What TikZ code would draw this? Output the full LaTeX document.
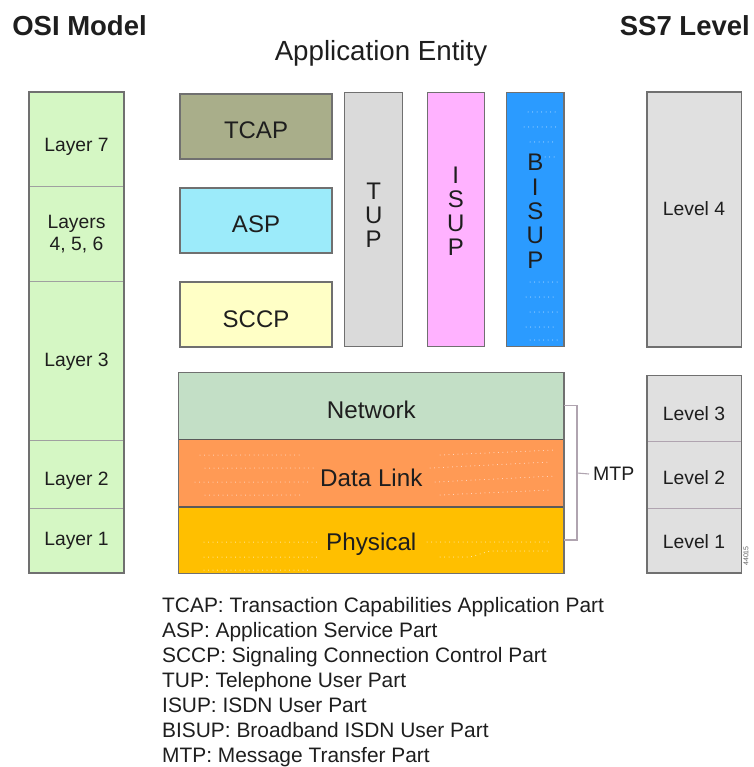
\documentclass[tikz,border=0pt]{standalone}
\usepackage{fontspec}
\setmainfont{Liberation Sans}
\definecolor{layerg}{HTML}{D5F7C4}
\definecolor{netg}{HTML}{C3DFC6}
\definecolor{dlo}{HTML}{FF9A55}
\definecolor{physy}{HTML}{FFBF00}
\definecolor{tcapc}{HTML}{A9AE8A}
\definecolor{aspc}{HTML}{9CEBFA}
\definecolor{sccpc}{HTML}{FFFFC6}
\definecolor{tupc}{HTML}{DADADA}
\definecolor{isupc}{HTML}{FFB2FF}
\definecolor{bisupc}{HTML}{2B9BFF}
\definecolor{lvlc}{HTML}{E0E0E0}
\definecolor{edgegray}{HTML}{707070}
\definecolor{ink}{HTML}{1E1E1E}
\definecolor{brkc}{HTML}{B0A4B0}
\definecolor{divc}{HTML}{A0A0A0}
\begin{document}
\begin{tikzpicture}[x=1pt,y=-1pt,
  cell/.style={inner sep=0pt, outer sep=0pt, anchor=north west},
  frame/.style={draw=edgegray, line width=1.3pt},
  divider/.style={draw=divc, line width=0.9pt},
  stackdiv/.style={draw=edgegray!80!black, line width=1.6pt},
  lbl/.style={anchor=base, inner sep=0pt, text=ink, font=\fontsize{19.3}{22}\selectfont},
  big/.style={anchor=base, inner sep=0pt, text=ink, font=\fontsize{24}{28}\selectfont},
  midlbl/.style={anchor=base, inner sep=0pt, text=ink, font=\fontsize{24.2}{28}\selectfont},
  title/.style={anchor=base, inner sep=0pt, text=ink, font=\fontsize{27.5}{32}\selectfont\bfseries},
  legend/.style={anchor=base west, inner sep=0pt, text=ink, font=\fontsize{20.9}{24}\selectfont},
  brk/.style={draw=brkc, line width=1.1pt},
  speck/.style={draw=white, line width=1pt, line cap=round, dash pattern=on 0pt off 4.5pt, opacity=0.8}
]
\useasboundingbox (0,0) rectangle (753,767);

% titles
\node[title] (osi) at (79.5,36) {OSI Model};
\node[title, anchor=base east] (ss7) at (750,36) {SS7 Level};
\node[anchor=base, inner sep=0pt, text=ink, font=\fontsize{27.7}{31}\selectfont] (appent) at (381,61) {Application Entity};

% OSI column
\node[cell, fill=layerg, minimum width=95pt, minimum height=94pt] (l7) at (29,92) {};
\node[cell, fill=layerg, minimum width=95pt, minimum height=95pt] (l456) at (29,186) {};
\node[cell, fill=layerg, minimum width=95pt, minimum height=159.7pt] (l3) at (29,281) {};
\node[cell, fill=layerg, minimum width=95pt, minimum height=67.3pt] (l2) at (29,440.7) {};
\node[cell, fill=layerg, minimum width=95pt, minimum height=65pt] (l1) at (29,508) {};
\draw[divider] (l7.south west) -- (l7.south east);
\draw[divider] (l456.south west) -- (l456.south east);
\draw[divider] (l3.south west) -- (l3.south east);
\draw[divider] (l2.south west) -- (l2.south east);
\draw[frame] (l7.north west) rectangle (l1.south east);
\node[lbl] (t7) at (76.5,152) {Layer 7};
\node[lbl] (t456a) at (76.5,228.5) {Layers};
\node[lbl] (t456b) at (76.5,250.5) {4, 5, 6};
\node[lbl] (t3) at (76.5,366) {Layer 3};
\node[lbl] (t2) at (76.5,485) {Layer 2};
\node[lbl] (t1) at (76.5,545) {Layer 1};

% application boxes
\node[cell, frame, fill=tcapc, minimum width=152pt, minimum height=65pt] (tcap) at (180,94) {};
\node[cell, frame, fill=aspc, minimum width=152pt, minimum height=65pt] (asp) at (180,188) {};
\node[cell, frame, fill=sccpc, minimum width=152pt, minimum height=65pt] (sccp) at (180,282) {};
\node[big] (tcapt) at (256,138.3) {TCAP};
\node[big] (aspt) at (256,232.7) {ASP};
\node[big] (sccpt) at (256,327.3) {SCCP};

\node[cell, frame, fill=tupc, minimum width=58pt, minimum height=254.4pt] (tup) at (344.7,92.3) {};
\node[cell, frame, fill=isupc, minimum width=57pt, minimum height=254.4pt] (isup) at (427.3,92.3) {};
\node[cell, frame, fill=bisupc, minimum width=57.3pt, minimum height=254.4pt] (bisup) at (506.7,92.3) {};
% specks on BISUP
\draw[speck] (528,112) -- (556,112);
\draw[speck] (524,127) -- (558,127);
\draw[speck] (530,142) -- (556,142);
\draw[speck] (545,157) -- (556,157);
\draw[speck] (530,282) -- (558,282);
\draw[speck] (526,297) -- (556,297);
\draw[speck] (530,312) -- (560,312);
\draw[speck] (526,327) -- (556,327);
\draw[speck] (530,340) -- (558,340);
\foreach \ch [count=\i] in {T,U,P}
  \node[big] (tupl\i) at (373.7,200+23.8*\i-23.8) {\ch};
\foreach \ch [count=\i] in {I,S,U,P}
  \node[big] (isupl\i) at (455.8,183.3+24.2*\i-24.2) {\ch};
\foreach \ch [count=\i] in {B,I,S,U,P}
  \node[big] (bisupl\i) at (535.3,171+24.3*\i-24.3) {\ch};

% SS7 levels
\node[cell, frame, fill=lvlc, minimum width=94.5pt, minimum height=255pt] (lv4) at (647,92) {};
\node[lbl] (lv4t) at (694,215.7) {Level 4};
\node[cell, fill=lvlc, minimum width=94.5pt, minimum height=66pt] (lv3) at (647,375.7) {};
\node[cell, fill=lvlc, minimum width=94.5pt, minimum height=66.6pt] (lv2) at (647,441.7) {};
\node[cell, fill=lvlc, minimum width=94.5pt, minimum height=64.7pt] (lv1) at (647,508.3) {};
\draw[divider, draw=brkc] (lv3.south west) -- (lv3.south east);
\draw[divider, draw=brkc] (lv2.south west) -- (lv2.south east);
\draw[frame] (lv3.north west) rectangle (lv1.south east);
\node[lbl] (lv3t) at (694,420.7) {Level 3};
\node[lbl] (lv2t) at (694,484) {Level 2};
\node[lbl] (lv1t) at (694,548.3) {Level 1};
\node[rotate=90, inner sep=0pt, text=ink!70, font=\fontsize{7}{8}\selectfont] (fig) at (746,556) {44015};

% MTP stack
\node[cell, fill=netg, minimum width=385.4pt, minimum height=67pt] (net) at (178.6,372.3) {};
\node[cell, fill=dlo, minimum width=385.4pt, minimum height=67.4pt] (dl) at (178.6,439.3) {};
\node[cell, fill=physy, minimum width=385.4pt, minimum height=66.6pt] (phys) at (178.6,506.7) {};
% specks
\draw[speck, draw=white!80!pink] (200,455) -- (300,455);
\draw[speck, draw=white!80!pink] (205,468) -- (315,468);
\draw[speck, draw=white!80!pink] (195,482) -- (310,482);
\draw[speck, draw=white!80!pink] (205,495) -- (300,495);
\draw[speck, draw=white!80!pink] (440,455) -- (555,450);
\draw[speck, draw=white!80!pink] (430,468) -- (550,462);
\draw[speck, draw=white!80!pink] (435,482) -- (555,476);
\draw[speck, draw=white!80!pink] (440,495) -- (550,490);
\draw[speck] (204,542) -- (317,542);
\draw[speck] (427,542) -- (552,542);
\draw[speck] (204,557) -- (317,557);
\draw[speck] (440,557) -- (470,557) -- (490,551) -- (550,551);
\draw[speck] (204,570) -- (310,570);
\draw[stackdiv] (dl.north west) -- (dl.north east);
\draw[stackdiv] (phys.north west) -- (phys.north east);
\draw[frame] (net.north west) rectangle (phys.south east);
\node[midlbl] (nett) at (371.3,418.3) {Network};
\node[midlbl] (dlt) at (371.3,486.7) {Data Link};
\node[midlbl] (physt) at (371.3,550) {Physical};

% MTP bracket
\node[anchor=base west, inner sep=0pt, text=ink, font=\fontsize{19.5}{22}\selectfont] (mtp) at (593,480.7) {MTP};
\draw[brk] (net.east) -- ++(13,0) |- (phys.east);
\coordinate (mtpj) at ([xshift=13pt]dl.east);
\draw[brk] (mtpj) -- ([xshift=-4pt]mtp.west);

% legend
\node[legend] (lg1) at (162,612) {TCAP: Transaction Capabilities Application Part};
\node[legend] (lg2) at (162,637) {ASP: Application Service Part};
\node[legend] (lg3) at (162,662) {SCCP: Signaling Connection Control Part};
\node[legend] (lg4) at (162,687) {TUP: Telephone User Part};
\node[legend] (lg5) at (162,712) {ISUP: ISDN User Part};
\node[legend] (lg6) at (162,737) {BISUP: Broadband ISDN User Part};
\node[legend] (lg7) at (162,762) {MTP: Message Transfer Part};
\end{tikzpicture}
\end{document}
